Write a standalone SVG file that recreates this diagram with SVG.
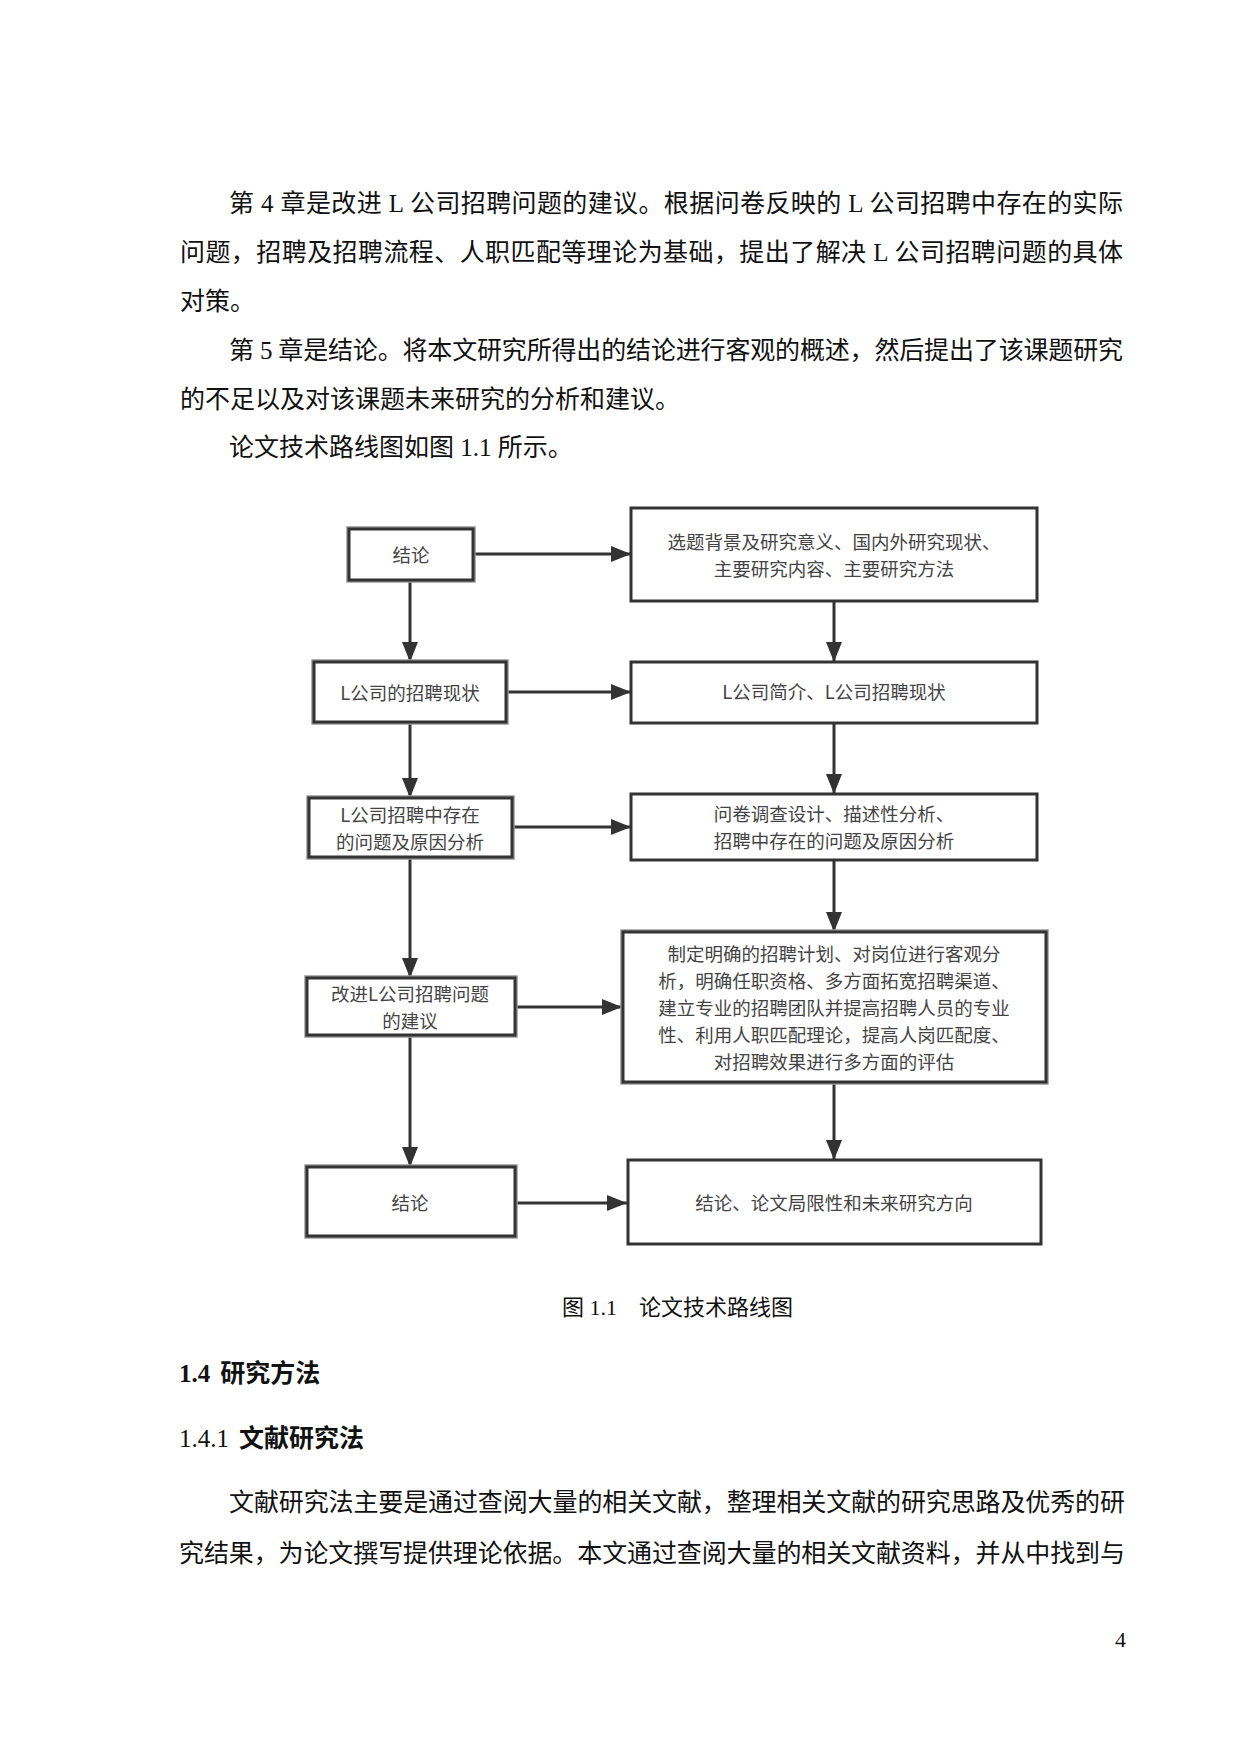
<svg xmlns="http://www.w3.org/2000/svg" width="1240" height="1754" viewBox="0 0 1240 1754">
<style>
.body{font-family:"Liberation Serif","Noto Sans CJK SC",serif;font-size:25px;fill:#111;}
.cap{font-family:"Liberation Serif","Noto Sans CJK SC",serif;font-size:22px;fill:#111;}
.h{font-family:"Liberation Serif","Noto Sans CJK SC",serif;font-size:25px;fill:#111;}
.box{fill:#fff;stroke:#333;stroke-width:3;}
.halo{fill:none;stroke:#999;stroke-width:5.5;}
.bt{font-family:"Noto Sans CJK SC",sans-serif;font-size:18.5px;fill:#444;text-anchor:middle;}
.conn line{stroke:#333;stroke-width:3;}
</style>
<defs>
<marker id="arr" markerUnits="userSpaceOnUse" markerWidth="20" markerHeight="16" refX="20" refY="8" orient="auto">
<path d="M0,0 L20,8 L0,16 z" fill="#333"/>
</marker>
</defs>
<rect width="1240" height="1754" fill="#fff"/>
<g id="text-top">
<text class="body" x="229" y="212" textLength="894" lengthAdjust="spacing">第 4 章是改进 L 公司招聘问题的建议。根据问卷反映的 L 公司招聘中存在的实际</text>
<text class="body" x="180" y="261" textLength="943" lengthAdjust="spacing">问题，招聘及招聘流程、人职匹配等理论为基础，提出了解决 L 公司招聘问题的具体</text>
<text class="body" x="180" y="310">对策。</text>
<text class="body" x="229" y="359" textLength="894" lengthAdjust="spacing">第 5 章是结论。将本文研究所得出的结论进行客观的概述，然后提出了该课题研究</text>
<text class="body" x="180" y="408">的不足以及对该课题未来研究的分析和建议。</text>
<text class="body" x="229" y="456">论文技术路线图如图 1.1 所示。</text>
</g>
<g id="connectors" class="conn">
<line x1="473" y1="554" x2="631" y2="554" marker-end="url(#arr)"/>
<line x1="410" y1="580" x2="410" y2="662" marker-end="url(#arr)"/>
<line x1="834" y1="601" x2="834" y2="662" marker-end="url(#arr)"/>
<line x1="506" y1="692" x2="631" y2="692" marker-end="url(#arr)"/>
<line x1="410" y1="722" x2="410" y2="798" marker-end="url(#arr)"/>
<line x1="834" y1="723" x2="834" y2="794" marker-end="url(#arr)"/>
<line x1="512" y1="827" x2="631" y2="827" marker-end="url(#arr)"/>
<line x1="410" y1="857" x2="410" y2="978" marker-end="url(#arr)"/>
<line x1="834" y1="860" x2="834" y2="932" marker-end="url(#arr)"/>
<line x1="515" y1="1007" x2="622" y2="1007" marker-end="url(#arr)"/>
<line x1="410" y1="1035" x2="410" y2="1167" marker-end="url(#arr)"/>
<line x1="834" y1="1082" x2="834" y2="1160" marker-end="url(#arr)"/>
<line x1="515" y1="1203" x2="627" y2="1203" marker-end="url(#arr)"/>
</g>
<g id="nodeA">
<rect class="halo" x="349" y="529" width="124" height="51"/>
<rect class="box" x="349" y="529" width="124" height="51"/>
<text class="bt" x="411" y="561.5">结论</text>
</g>
<g id="nodeB">
<rect class="box" x="631" y="508" width="406" height="93"/>
<text class="bt" x="834" y="549">选题背景及研究意义、国内外研究现状、</text>
<text class="bt" x="834" y="576">主要研究内容、主要研究方法</text>
</g>
<g id="nodeC">
<rect class="halo" x="314" y="662" width="192" height="60"/>
<rect class="box" x="314" y="662" width="192" height="60"/>
<text class="bt" x="410" y="700">L公司的招聘现状</text>
</g>
<g id="nodeD">
<rect class="box" x="631" y="662" width="406" height="61"/>
<text class="bt" x="834" y="699">L公司简介、L公司招聘现状</text>
</g>
<g id="nodeE">
<rect class="halo" x="309" y="798" width="203" height="59"/>
<rect class="box" x="309" y="798" width="203" height="59"/>
<text class="bt" x="410" y="822">L公司招聘中存在</text>
<text class="bt" x="410" y="849">的问题及原因分析</text>
</g>
<g id="nodeF">
<rect class="box" x="631" y="794" width="406" height="66"/>
<text class="bt" x="834" y="821">问卷调查设计、描述性分析、</text>
<text class="bt" x="834" y="848">招聘中存在的问题及原因分析</text>
</g>
<g id="nodeG">
<rect class="halo" x="307" y="978" width="208" height="57"/>
<rect class="box" x="307" y="978" width="208" height="57"/>
<text class="bt" x="410" y="1001">改进L公司招聘问题</text>
<text class="bt" x="410" y="1028">的建议</text>
</g>
<g id="nodeH">
<rect class="halo" x="623" y="932" width="423" height="150"/>
<rect class="box" x="623" y="932" width="423" height="150"/>
<text class="bt" x="834" y="960.5">制定明确的招聘计划、对岗位进行客观分</text>
<text class="bt" x="834" y="987.5">析，明确任职资格、多方面拓宽招聘渠道、</text>
<text class="bt" x="834" y="1014.5">建立专业的招聘团队并提高招聘人员的专业</text>
<text class="bt" x="834" y="1041.5">性、利用人职匹配理论，提高人岗匹配度、</text>
<text class="bt" x="834" y="1068.5">对招聘效果进行多方面的评估</text>
</g>
<g id="nodeI">
<rect class="halo" x="307" y="1167" width="208" height="69"/>
<rect class="box" x="307" y="1167" width="208" height="69"/>
<text class="bt" x="410" y="1210">结论</text>
</g>
<g id="nodeJ">
<rect class="box" x="628" y="1160" width="413" height="84"/>
<text class="bt" x="834" y="1210">结论、论文局限性和未来研究方向</text>
</g>
<g id="text-bottom">
<text class="cap" x="562" y="1315">图 1.1　论文技术路线图</text>
<text class="h" x="179" y="1382"><tspan font-weight="bold">1.4</tspan><tspan font-weight="bold" dx="10">研究方法</tspan></text>
<text class="h" x="179" y="1447">1.4.1<tspan font-weight="bold" dx="10">文献研究法</tspan></text>
<text class="body" x="229" y="1511" textLength="896" lengthAdjust="spacing">文献研究法主要是通过查阅大量的相关文献，整理相关文献的研究思路及优秀的研</text>
<text class="body" x="179" y="1562" textLength="946" lengthAdjust="spacing">究结果，为论文撰写提供理论依据。本文通过查阅大量的相关文献资料，并从中找到与</text>
<text class="cap" x="1126" y="1647" text-anchor="end">4</text>
</g>
</svg>
